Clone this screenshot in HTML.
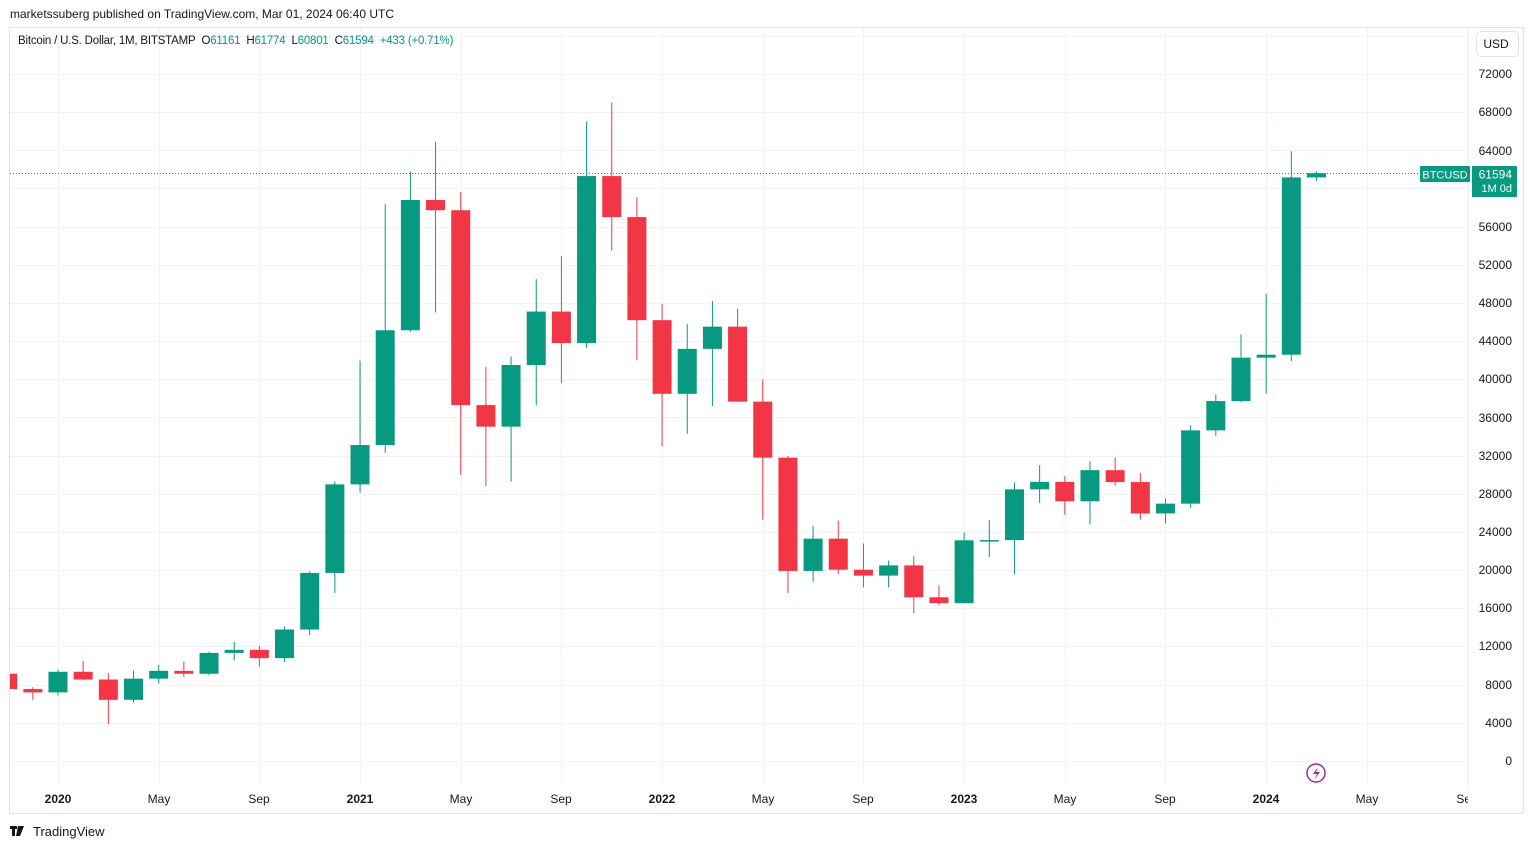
<!DOCTYPE html>
<html><head><meta charset="utf-8"><style>
body{margin:0;width:1534px;height:849px;background:#fff;font-family:"Liberation Sans",sans-serif;overflow:hidden;position:relative}
.t{position:absolute;font-size:12px;color:#131722;white-space:nowrap}
</style></head><body>
<div class="t" style="left:10px;top:7px;">marketssuberg published on TradingView.com, Mar 01, 2024 06:40 UTC</div>
<svg width="1534" height="849" style="position:absolute;left:0;top:0" id="s">
<defs><clipPath id="cp"><rect x="10" y="28" width="1458" height="757"/></clipPath></defs>
<rect x="9.5" y="27.5" width="1514" height="786" fill="none" stroke="#e0e3eb"/>
<line x1="1468.5" y1="28" x2="1468.5" y2="813" stroke="#f0f3fa"/>
<g id="grid"></g>
<g id="c" clip-path="url(#cp)"></g>
<line x1="10" y1="173.5" x2="1420" y2="173.5" stroke="#089981" stroke-dasharray="1,2"/>
<rect x="1420" y="166" width="50" height="16" fill="#089981" rx="1"/>
<text x="1445" y="178.5" fill="#fff" font-size="11" text-anchor="middle" font-family="Liberation Sans">BTCUSD</text>
<rect x="1472" y="166" width="45" height="31" fill="#089981" rx="1"/>
<text x="1512" y="178.5" fill="#fff" font-size="12" text-anchor="end" font-family="Liberation Sans">61594</text>
<text x="1512" y="192" fill="#fff" font-size="11" text-anchor="end" font-family="Liberation Sans">1M 0d</text>
<rect x="1476.5" y="31.5" width="42" height="25" rx="4" fill="#fff" stroke="#e0e3eb"/>
<text x="1496" y="48" font-size="12" text-anchor="middle" fill="#131722" font-family="Liberation Sans">USD</text>
<g font-size="12" fill="#131722" text-anchor="end" font-family="Liberation Sans">
<text x="1512" y="78">72000</text><text x="1512" y="116">68000</text><text x="1512" y="155">64000</text>
<text x="1512" y="231">56000</text><text x="1512" y="269">52000</text><text x="1512" y="307">48000</text>
<text x="1512" y="345">44000</text><text x="1512" y="383">40000</text><text x="1512" y="422">36000</text>
<text x="1512" y="460">32000</text><text x="1512" y="498">28000</text><text x="1512" y="536">24000</text>
<text x="1512" y="574">20000</text><text x="1512" y="612">16000</text><text x="1512" y="650">12000</text>
<text x="1512" y="689">8000</text><text x="1512" y="727">4000</text><text x="1512" y="765">0</text>
</g>
<g font-size="12" fill="#131722" text-anchor="middle" font-family="Liberation Sans">
<text x="58" y="803" font-weight="bold">2020</text><text x="159" y="803">May</text><text x="259" y="803">Sep</text>
<text x="360" y="803" font-weight="bold">2021</text><text x="461" y="803">May</text><text x="561" y="803">Sep</text>
<text x="662" y="803" font-weight="bold">2022</text><text x="763" y="803">May</text><text x="863" y="803">Sep</text>
<text x="964" y="803" font-weight="bold">2023</text><text x="1065" y="803">May</text><text x="1165" y="803">Sep</text>
<text x="1266" y="803" font-weight="bold">2024</text><text x="1367" y="803">May</text><text x="1467" y="803">Sep</text>
</g>
<rect x="1468" y="790" width="55" height="20" fill="#fff"/>
<circle cx="1316" cy="773" r="9" fill="none" stroke="#9c27b0" stroke-width="1.5"/>
<path d="M1318 767 L1313 774 L1317 774 L1314 780 L1320 772 L1316 772 Z" fill="#9c27b0"/>
<rect x="10" y="826" width="7" height="3" fill="#131722"/><rect x="12" y="826" width="3" height="10" fill="#131722"/>
<path d="M18 826 L24 826 L20 836 L16 836 Z" fill="#131722"/>
<text x="33" y="836" font-size="13" fill="#131722" font-family="Liberation Sans">TradingView</text>
</svg>
<div class="t" style="left:18px;top:35px;font-size:11.5px;letter-spacing:-0.2px">Bitcoin / U.S. Dollar, 1M, BITSTAMP&nbsp; <span>O</span><span style="color:#089981">61161</span>&nbsp; H<span style="color:#089981">61774</span>&nbsp; L<span style="color:#089981">60801</span>&nbsp; C<span style="color:#089981">61594</span>&nbsp; <span style="color:#089981">+433 (+0.71%)</span></div>
<script>
var d=[[9150,9170,6520,7540],[7540,7750,6430,7190],[7190,9580,6870,9350],[9350,10500,8450,8540],[8540,9190,3850,6410],[6410,9470,6150,8630],[8630,10080,8120,9450],[9450,10400,8800,9140],[9140,11450,8980,11330],[11330,12470,10540,11650],[11650,12050,9880,10780],[10780,14100,10380,13780],[13780,19880,13200,19710],[19710,29300,17600,28990],[28990,41950,28130,33110],[33110,58350,32300,45140],[45140,61780,44950,58790],[58790,64900,47000,57720],[57720,59600,30000,37300],[37300,41300,28800,35040],[35040,42400,29300,41500],[41500,50500,37300,47100],[47100,52900,39600,43800],[43800,67000,43300,61300],[61300,69000,53500,57000],[57000,59100,42000,46200],[46200,47900,33000,38480],[38480,45800,34300,43190],[43190,48200,37200,45520],[45520,47400,37700,37660],[37660,40000,25300,31790],[31790,31990,17600,19920],[19920,24650,18800,23300],[23300,25200,19580,20050],[20050,22800,18200,19430],[19430,21000,18200,20500],[20500,21450,15500,17160],[17160,18400,16300,16540],[16540,23950,16500,23130],[23130,25250,21400,23150],[23150,29200,19600,28470],[28470,31000,27050,29250],[29250,29850,25800,27220],[27220,31400,24800,30480],[30480,31800,28900,29230],[29230,30200,25300,25940],[25940,27500,24900,26970],[26970,35200,26550,34650],[34650,38400,34100,37720],[37720,44700,37600,42270],[42270,48970,38500,42580],[42580,63900,41900,61160],[61161,61774,60801,61594]];
var ns="http://www.w3.org/2000/svg";function el(g,t,a){var e=document.createElementNS(ns,t);for(var k in a)e.setAttribute(k,a[k]);g.appendChild(e);}
var Y=function(v){return 761-v*0.009542;};
var g=document.getElementById('grid');
for(var k=0;k<=19;k++){var y=Math.round(Y(k*4000))+0.5;el(g,'line',{x1:10,x2:1468,y1:y,y2:y,stroke:'#f0f3fa'});}
for(var m=0;m<15;m++){var x=Math.round(58+m*100.67)+0.5;if(x<1468)el(g,'line',{x1:x,x2:x,y1:28,y2:785,stroke:'#f0f3fa'});}
var c=document.getElementById('c');
d.forEach(function(r,i){var cx=58+(i-2)*25.17;var col=r[3]>=r[0]?'#089981':'#f23645';
el(c,'line',{x1:cx,x2:cx,y1:Y(r[1]),y2:Y(r[2]),stroke:col,'stroke-width':1});
var t=Y(Math.max(r[0],r[3])),b=Y(Math.min(r[0],r[3]));
el(c,'rect',{x:cx-9.5,y:t,width:19,height:Math.max(b-t,1.5),fill:col});});
</script>
</body></html>
